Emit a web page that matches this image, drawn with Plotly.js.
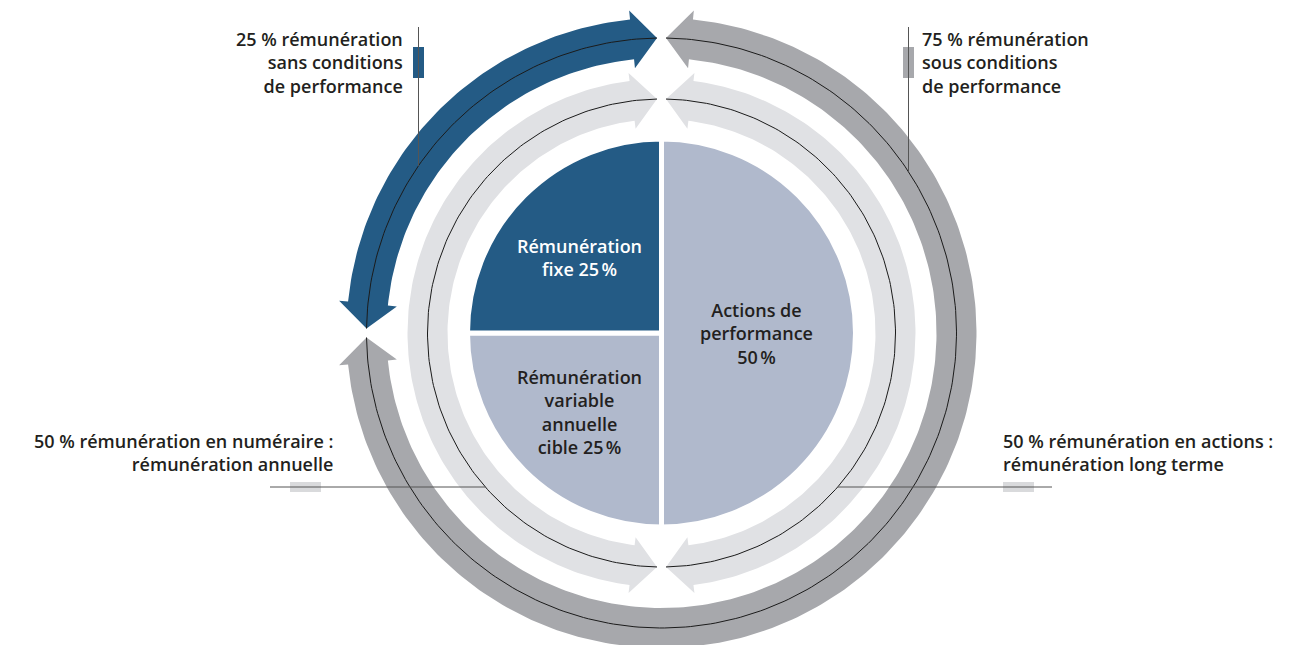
<!DOCTYPE html>
<html>
<head>
<meta charset="utf-8">
<script src="https://cdn.plot.ly/plotly-3.0.1.min.js"></script>
<style>
html,body{margin:0;padding:0;background:#fff;}
#chart{width:1293px;height:645px;}
</style>
</head>
<body>
<div id="chart"></div>
<script>
// centre pie : split of the target pay
const pieLabels=["Actions de performance","Rémunération variable annuelle cible","Rémunération fixe"];
const pieValues=[50,25,25];
const pieText=[
  ["Actions de","performance","50\u202f%"],
  ["Rémunération","variable","annuelle","cible 25\u202f%"],
  ["Rémunération","fixe 25\u202f%"]
];

// inner ring : cash vs shares (starts at 12 o'clock, counter-clockwise)
const innerLabels=[
  ["50 % rémunération en numéraire :","rémunération annuelle"],
  ["50 % rémunération en actions :","rémunération long terme"]
];
const innerShares=[50,50];

// outer ring : without / with performance conditions
const outerLabels=[
  ["25 % rémunération","sans conditions","de performance"],
  ["75 % rémunération","sous conditions","de performance"]
];
const outerShares=[25,75];

const W=1293,H=645;
const cx=661.5,cy=333;
const BLUE="#245b85",PALE="#b0b9cc",GREY="#a7a8ac",LIGHT="#e0e1e4";
const FONT="Open Sans";

function pt(a,r){
  let t=a*Math.PI/180;
  return [cx+r*Math.cos(t),cy-r*Math.sin(t)];
}

function arc(a0,a1,r,xs,ys){
  let n=Math.max(2,Math.ceil(Math.abs(a1-a0)));
  for(let i=0;i<=n;i++){
    let p=pt(a0+(a1-a0)*i/n,r);
    xs.push(p[0]);ys.push(p[1]);
  }
}

// double headed curved arrow between angles a0 and a1
function arrow(a0,a1,R,w,hw,len,gap,color){
  let g=gap/R*180/Math.PI, L=len/R*180/Math.PI;
  let t0=a0+g, t1=a1-g, b0=t0+L, b1=t1-L;
  let xs=[],ys=[];
  let push=p=>{xs.push(p[0]);ys.push(p[1]);};
  push(pt(t0,R));
  push(pt(b0,R+hw));
  arc(b0,b1,R+w,xs,ys);
  push(pt(b1,R+hw));
  push(pt(t1,R));
  push(pt(b1,R-hw));
  arc(b1,b0,R-w,xs,ys);
  push(pt(b0,R-hw));
  push(pt(t0,R));
  let lx=[],ly=[];
  arc(t0,t1,R,lx,ly);
  return [
    {type:"scatter",x:xs,y:ys,mode:"lines",fill:"toself",fillcolor:color,
     line:{width:0,color:color},hoverinfo:"skip",showlegend:false},
    {type:"scatter",x:lx,y:ly,mode:"lines",line:{width:1,color:"#1b1b1b"},
     hoverinfo:"skip",showlegend:false}
  ];
}

function ring(shares,colors,R,w,hw,len,gap){
  let out=[],a=90;
  shares.forEach((s,i)=>{
    let span=s*3.6;
    out=out.concat(arrow(a,a+span,R,w,hw,len,gap,colors[i]));
    a+=span;
  });
  return out;
}

const R_OUT=295,R_IN=234,R_PIE=194;

let traces=[];
traces=traces.concat(ring(outerShares,[BLUE,GREY],R_OUT,20,29,25,4.5));
traces=traces.concat(ring(innerShares,[LIGHT,LIGHT],R_IN,20,28,25,4.5));

traces.push({
  type:"pie",
  labels:pieLabels,
  values:pieValues,
  sort:false,
  direction:"clockwise",
  rotation:0,
  marker:{colors:[PALE,PALE,BLUE],line:{color:"#fff",width:5}},
  textinfo:"none",
  hoverinfo:"skip",
  showlegend:false,
  domain:{x:[(cx-R_PIE)/W,(cx+R_PIE)/W],y:[(H-cy-R_PIE)/H,(H-cy+R_PIE)/H]}
});

// helper for where a vertical / horizontal leader meets a circle
function yOnCircle(x,r){return cy-Math.sqrt(r*r-(x-cx)*(x-cx));}
function xOnCircle(y,r,side){return cx+side*Math.sqrt(r*r-(y-cy)*(y-cy));}

const LY=487;
let shapes=[
  {type:"rect",x0:413,x1:424,y0:47,y1:78,fillcolor:BLUE,line:{width:0}},
  {type:"rect",x0:903,x1:914,y0:47,y1:78,fillcolor:GREY,line:{width:0}},
  {type:"rect",x0:290,x1:321,y0:LY-5,y1:LY+5,fillcolor:"#d9dadc",line:{width:0}},
  {type:"rect",x0:1003,x1:1034,y0:LY-5,y1:LY+5,fillcolor:"#d9dadc",line:{width:0}},
  {type:"line",x0:418.5,x1:418.5,y0:27,y1:yOnCircle(418.5,R_OUT),line:{color:"#555",width:1}},
  {type:"line",x0:908.5,x1:908.5,y0:27,y1:yOnCircle(908.5,R_OUT),line:{color:"#555",width:1}},
  {type:"line",x0:270,x1:xOnCircle(LY,R_IN,-1),y0:LY,y1:LY,line:{color:"#555",width:1}},
  {type:"line",x0:xOnCircle(LY,R_IN,1),x1:1052,y0:LY,y1:LY,line:{color:"#555",width:1}}
];

let annotations=[];
function addText(lines,x,yMid,anchor,color){
  annotations.push({x:x,y:yMid,text:lines.join("<br>"),showarrow:false,
    xanchor:anchor,yanchor:"middle",align:anchor==="center"?"center":anchor,
    font:{family:FONT,size:18,color:color,weight:600}});
}

const DARK="#231f20";
addText(pieText[0],756,333,"center",DARK);
addText(pieText[1],579,412,"center",DARK);
addText(pieText[2],579,257,"center","#ffffff");
addText(outerLabels[0],405,62,"right",DARK);
addText(outerLabels[1],920,62,"left",DARK);
addText(innerLabels[0],335,452,"right",DARK);
addText(innerLabels[1],1001,452,"left",DARK);

const layout={
  width:W,height:H,
  margin:{l:0,r:0,t:0,b:0},
  paper_bgcolor:"#fff",plot_bgcolor:"#fff",
  xaxis:{range:[0,W],visible:false,fixedrange:true},
  yaxis:{range:[H,0],visible:false,fixedrange:true},
  shapes:shapes,
  annotations:annotations,
  showlegend:false
};

Plotly.newPlot("chart",traces,layout,{staticPlot:true,displayModeBar:false});
</script>
</body>
</html>
